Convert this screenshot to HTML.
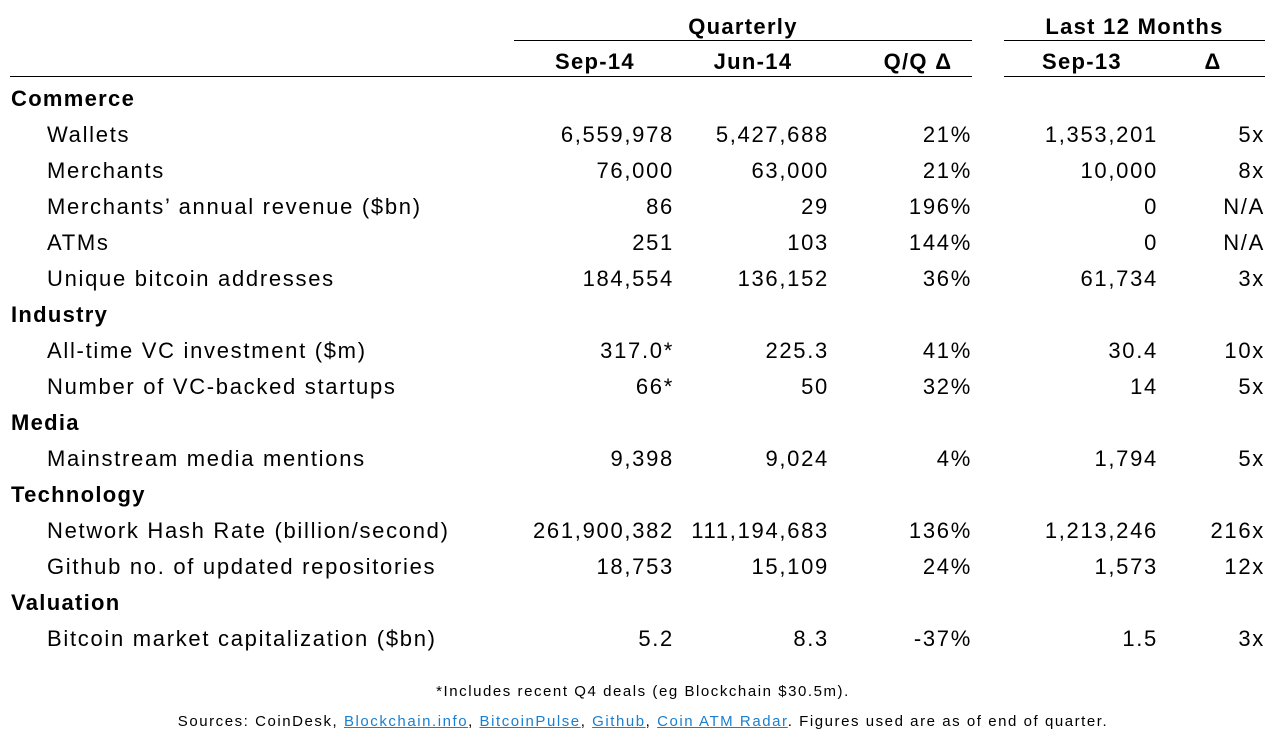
<!DOCTYPE html>
<html><head><meta charset="utf-8"><style>
body{margin:0;width:1286px;height:737px;background:#fff;font-family:"Liberation Sans",sans-serif;color:#000;position:relative;overflow:hidden}
.t{position:absolute;font-size:22px;line-height:26px;white-space:nowrap;letter-spacing:1.7px}
.r{text-align:right}
.b{font-weight:bold;letter-spacing:1.3px}
.ln{position:absolute;height:1px;background:#000}
.f{position:absolute;left:0;width:1286px;text-align:center;font-size:15px;white-space:nowrap;letter-spacing:1.55px}
a{color:#1a7fd0;text-decoration:underline}
</style></head><body>
<div class="t b" style="left:514px;width:458px;top:14px;text-align:center">Quarterly</div>
<div class="t b" style="left:1004px;width:261px;top:14px;text-align:center">Last 12 Months</div>
<div class="ln" style="left:514px;width:458px;top:40px"></div>
<div class="ln" style="left:1004px;width:261px;top:40px"></div>
<div class="ln" style="left:10px;width:962px;top:76px"></div>
<div class="ln" style="left:1004px;width:261px;top:76px"></div>
<div id="rows"></div>
<div class="f" style="top:683px">*Includes recent Q4 deals (eg Blockchain $30.5m).</div>
<div class="f" style="top:713px">Sources: CoinDesk, <a>Blockchain.info</a>, <a>BitcoinPulse</a>, <a>Github</a>, <a>Coin ATM Radar</a>. Figures used are as of end of quarter.</div>
<script>
const headers=["Sep-14","Jun-14","Q/Q Δ","Sep-13","Δ"];
const rows=[
["c","Commerce"],
["i","Wallets","6,559,978","5,427,688","21%","1,353,201","5x"],
["i","Merchants","76,000","63,000","21%","10,000","8x"],
["i","Merchants’ annual revenue ($bn)","86","29","196%","0","N/A"],
["i","ATMs","251","103","144%","0","N/A"],
["i","Unique bitcoin addresses","184,554","136,152","36%","61,734","3x"],
["c","Industry"],
["i","All-time VC investment ($m)","317.0*","225.3","41%","30.4","10x"],
["i","Number of VC-backed startups","66*","50","32%","14","5x"],
["c","Media"],
["i","Mainstream media mentions","9,398","9,024","4%","1,794","5x"],
["c","Technology"],
["i","Network Hash Rate (billion/second)","261,900,382","111,194,683","136%","1,213,246","216x"],
["i","Github no. of updated repositories","18,753","15,109","24%","1,573","12x"],
["c","Valuation"],
["i","Bitcoin market capitalization ($bn)","5.2","8.3","-37%","1.5","3x"]
];
const rights=[674,829,972,1158,1265];
const hc=[595,753,918,1082,1213];
const root=document.getElementById('rows');
function mk(txt,cls,style){const d=document.createElement('div');d.className='t '+cls;d.textContent=txt;d.style.cssText=style;root.appendChild(d);return d;}
headers.forEach((h,i)=>{const d=mk(h,'b',`left:${hc[i]-100}px;width:200px;top:49px;text-align:center`);

});
rows.forEach((r,k)=>{const y=86+k*36;
if(r[0]==='c'){const d=mk(r[1],'b',`left:11px;top:${y}px`);

}
else{const d=mk(r[1],'',`left:47px;top:${y}px`);


for(let j=0;j<5;j++){const c=mk(r[j+2],'r',`left:${rights[j]-250}px;width:250px;top:${y}px`);

}}});
</script>
</body></html>
